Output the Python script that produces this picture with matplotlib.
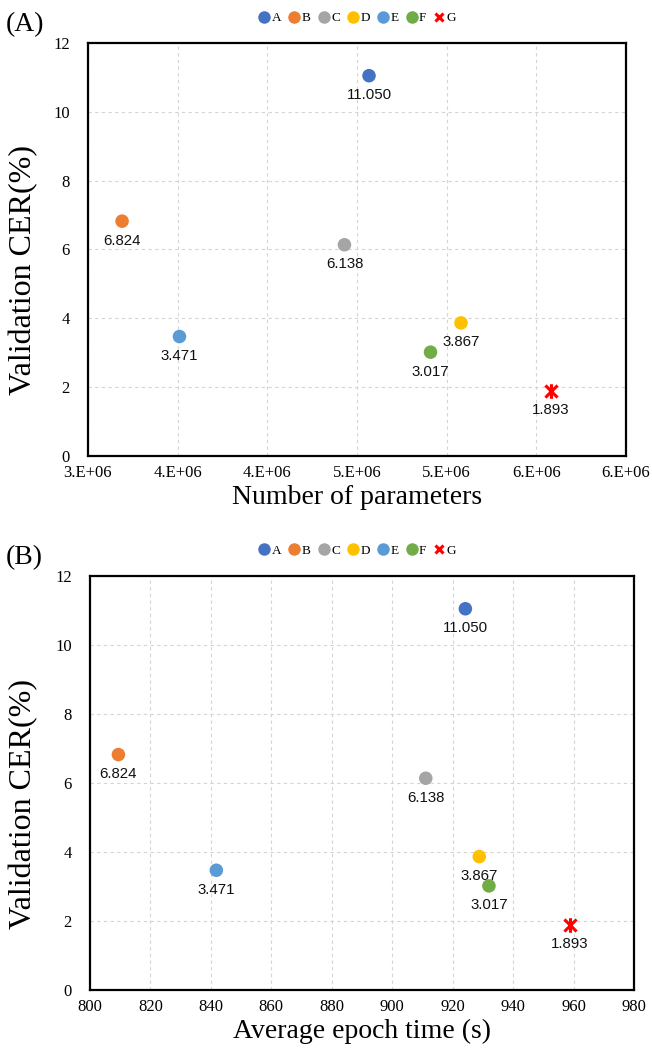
import matplotlib
matplotlib.use("Agg")
import matplotlib.pyplot as plt
from matplotlib.path import Path
from matplotlib.lines import Line2D

# data
models = ["A", "B", "C", "D", "E", "F", "G"]
colors = ["#4472C4", "#ED7D31", "#A5A5A5", "#FFC000", "#5B9BD5", "#70AD47", "#FF0000"]
cer = [11.050, 6.824, 6.138, 3.867, 3.471, 3.017, 1.893]
n_params = [4.567e6, 3.19e6, 4.43e6, 5.08e6, 3.51e6, 4.91e6, 5.58e6]
epoch_time = [924.2, 809.4, 911.1, 928.8, 841.8, 932.0, 958.8]

param_ticks = [3.0e6, 3.5e6, 4.0e6, 4.5e6, 5.0e6, 5.5e6, 6.0e6]
param_tick_labels = ["3.E+06", "4.E+06", "4.E+06", "5.E+06", "5.E+06", "6.E+06", "6.E+06"]
time_ticks = list(range(800, 1000, 20))
cer_ticks = list(range(0, 14, 2))

SERIF = "Liberation Serif"
SANS = "Liberation Sans"

# asterisk-like marker used for G (an X plus a vertical stroke)
star = Path(
    [(-1, -1), (1, 1), (-1, 1), (1, -1), (0, -1.2), (0, 1.2)],
    [Path.MOVETO, Path.LINETO, Path.MOVETO, Path.LINETO, Path.MOVETO, Path.LINETO],
)

W, H = 652, 1053


def px_axes(fig, left, right, top, bottom):
    return fig.add_axes([left / W, 1 - bottom / H, (right - left) / W, (bottom - top) / H])


def draw_panel(ax, xs, xlabel, xlim, xticks, xticklabels=None, xpad=5):
    for x, y, c, name in zip(xs, cer, colors, models):
        if name == "G":
            ax.scatter(x, y, marker=star, s=110, color=c, linewidths=2.2, zorder=3)
        else:
            ax.scatter(x, y, marker="o", s=95, color=c, edgecolors="none", zorder=3)
        ax.annotate(f"{y:.3f}", (x, y), xytext=(0, -14), textcoords="offset points",
                    ha="center", va="center", fontsize=10.8, family=SANS, color="#111111")
    ax.set_xlim(*xlim)
    ax.set_ylim(0, 12)
    ax.set_xticks(xticks)
    if xticklabels is not None:
        ax.set_xticklabels(xticklabels)
    ax.set_yticks(cer_ticks)
    ax.grid(True, color="#d4d4d4", linestyle=(0, (3, 3)), linewidth=0.8)
    ax.set_axisbelow(True)
    for sp in ax.spines.values():
        sp.set_linewidth(1.6)
        sp.set_color("black")
    ax.tick_params(length=0, labelsize=12)
    ax.tick_params(axis="y", pad=13)
    ax.tick_params(axis="x", pad=xpad)
    for lab in ax.get_xticklabels() + ax.get_yticklabels():
        lab.set_family(SERIF)
    ax.set_xlabel(xlabel, family=SERIF, fontsize=20, labelpad=3)
    ax.set_ylabel("Validation CER(%)", family=SERIF, fontsize=23)
    left_px = ax.get_position().x0 * W
    ax.yaxis.set_label_coords(-(left_px - 38) / (ax.get_position().width * W), 0.45)


def legend_handles():
    handles = []
    for c, name in zip(colors, models):
        if name == "G":
            h = Line2D([], [], linestyle="none", marker="x", markersize=6,
                       markeredgewidth=2.2, color=c)
        else:
            h = Line2D([], [], linestyle="none", marker="o", markersize=9,
                       markeredgewidth=0, color=c)
        handles.append(h)
    return handles


fig = plt.figure(figsize=(W / 100, H / 100), dpi=100)

ax1 = px_axes(fig, 88, 626, 43, 456)
draw_panel(ax1, n_params, "Number of parameters", (3.0e6, 6.0e6), param_ticks,
           param_tick_labels, xpad=6.5)

ax2 = px_axes(fig, 90, 634, 576, 990)
draw_panel(ax2, epoch_time, "Average epoch time (s)", (800, 980), time_ticks, xpad=6.5)

for label, ytop, yleg in [("(A)", 25, 18), ("(B)", 558, 551)]:
    fig.text(6 / W, 1 - ytop / H, label, family=SERIF, fontsize=20, ha="left", va="center")
    fig.legend(legend_handles(), models, loc="center", bbox_to_anchor=(357 / W, 1 - yleg / H),
               ncol=7, frameon=False, handletextpad=0.05, columnspacing=0.5,
               handlelength=1.0, prop={"family": SERIF, "size": 9.5})

fig.savefig("out.png", dpi=100)
